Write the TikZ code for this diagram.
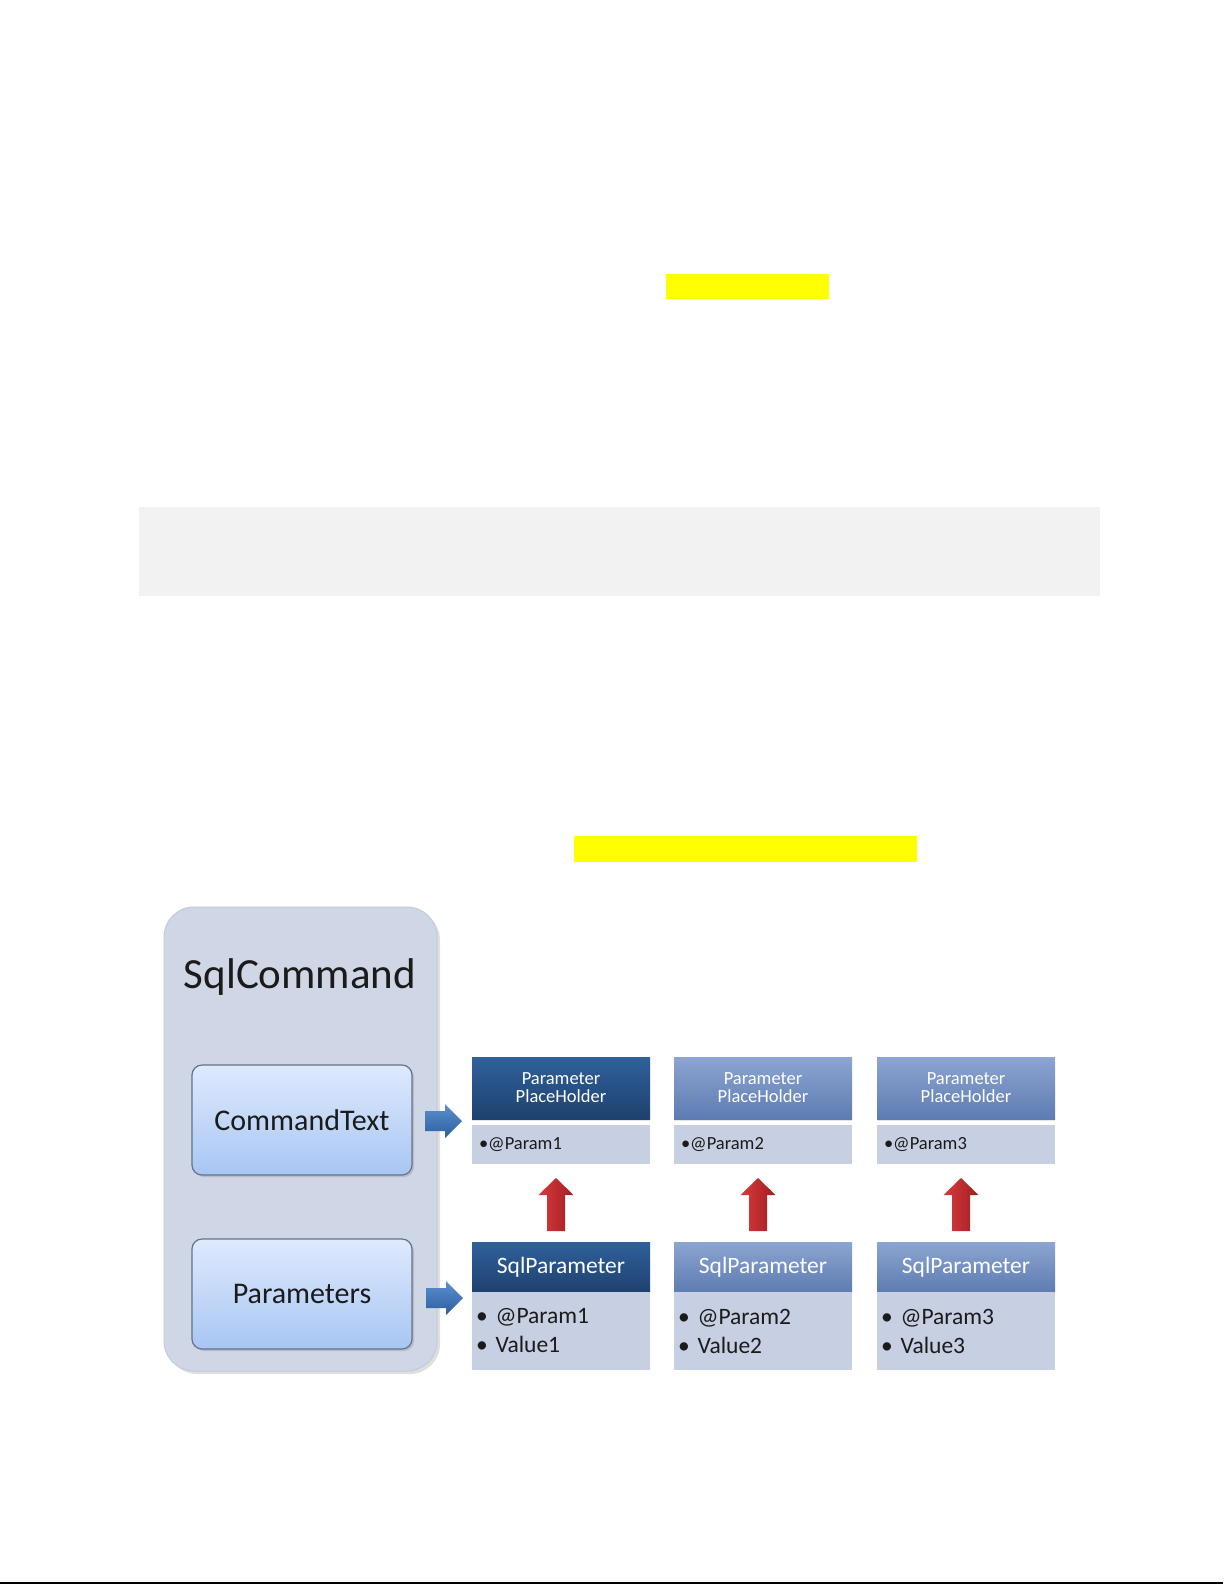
\documentclass[tikz,border=0pt]{standalone}
\usepackage{fontspec}
\setmainfont{Carlito}
\usetikzlibrary{shadows,calc}
\definecolor{hlyellow}{HTML}{FFFF00}
\definecolor{codegrey}{HTML}{F2F2F2}
\definecolor{outerfill}{HTML}{CFD6E5}
\definecolor{outerdraw}{HTML}{C3CBDA}
\definecolor{innertop}{HTML}{DEEAFD}
\definecolor{innerbot}{HTML}{A8C6F3}
\definecolor{innerdraw}{HTML}{65728A}
\definecolor{darktop}{HTML}{30609B}
\definecolor{darkbot}{HTML}{1E426F}
\definecolor{lighttop}{HTML}{8CA5D1}
\definecolor{lightbot}{HTML}{5E7CB2}
\definecolor{bodyfill}{HTML}{C6D0E2}
\definecolor{bodytext}{HTML}{1B1B1B}
\definecolor{bluetop}{HTML}{5A90D2}
\definecolor{bluebot}{HTML}{2E5E9C}
\definecolor{redl}{HTML}{DA3A3C}
\definecolor{redr}{HTML}{A01E22}
\tikzset{
  outerbox/.style={rectangle, rounded corners=30pt, fill=outerfill, draw=outerdraw, line width=1pt,
    inner sep=0pt, outer sep=0pt, anchor=north west,
    drop shadow={shadow xshift=3pt, shadow yshift=-3pt, opacity=0.25}},
  innerbox/.style={rectangle, rounded corners=10pt, top color=innertop, bottom color=innerbot,
    draw=innerdraw, line width=1.2pt, inner sep=0pt, outer sep=0pt, anchor=north west,
    minimum width=220pt, minimum height=110pt, text=bodytext,
    font=\fontsize{30}{36}\selectfont,
    drop shadow={shadow xshift=2pt, shadow yshift=-2pt, opacity=0.3}},
  colbox/.style={rectangle, inner sep=0pt, outer sep=0pt, anchor=north west, minimum width=178pt},
  phhead/.style={colbox, minimum height=62pt, text=white, align=center,
    font=\fontsize{18.5}{18.5}\selectfont,
    drop shadow={shadow xshift=0pt, shadow yshift=-2pt, opacity=0.2}},
  sphead/.style={colbox, minimum height=50pt, text=white,
    font=\fontsize{23.5}{28}\selectfont},
  darkhead/.style={top color=darktop, bottom color=darkbot},
  lighthead/.style={top color=lighttop, bottom color=lightbot},
  phbody/.style={colbox, fill=bodyfill, minimum height=39pt, text=bodytext,
    text width=164pt, inner xsep=7pt, align=left, font=\fontsize{18.5}{20}\selectfont},
  spbody/.style={colbox, fill=bodyfill, minimum height=78pt, text=bodytext,
    text width=170pt, inner xsep=4pt, align=left, font=\fontsize{23.5}{29}\selectfont},
  bluearr/.style={top color=bluetop, bottom color=bluebot},
  redarr/.style={left color=redl, right color=redr}
}
\begin{document}
\begin{tikzpicture}[x=1pt,y=1pt]
\useasboundingbox (0,0) rectangle (1225,-1585);
\fill[white] (0,0) rectangle (1225,-1585);
% highlights and code area
\fill[hlyellow] (666,-274) rectangle (829,-299);
\fill[codegrey] (139,-507) rectangle (1100,-596);
\fill[hlyellow] (574,-836) rectangle (917,-862);
% bottom rule
\draw[line width=1.5pt] (0,-1583) -- (1223,-1583);

% SqlCommand container
\node[outerbox, minimum width=273pt, minimum height=464pt] (sqlcmd) at (164,-907) {};
\node[font=\fontsize{43}{50}\selectfont, text=bodytext, anchor=base] (title) at (300,-988) {SqlCommand};
\node[innerbox] (ct) at (192,-1065) {CommandText};
\node[innerbox] (pm) at (192,-1239) {Parameters};

% columns
\foreach \i/\x/\hs in {1/472/darkhead, 2/674/lighthead, 3/877/lighthead}{
  \node[phhead, \hs] (ph\i) at (\x,-1057) {Parameter\\[-0.5pt]PlaceHolder};
  \node[phbody] (pb\i) at (\x,-1125) {•@Param\i};
  \node[sphead, \hs] (sp\i) at (\x,-1242) {SqlParameter};
  \node[spbody] (sb\i) at (\x,-1292) {• @Param\i\\• Value\i};
}

% blue arrows
\coordinate (ba1) at ($(ct.east)+(13,-1)$);
\coordinate (ba2) at ($(pm.east)+(14,-4)$);
\foreach \b in {ba1,ba2}{
  \shade[bluearr] (\b) -- +(0,10) -- +(20,10) -- +(20,17) -- +(37,0) -- +(20,-17)
    -- +(20,-10) -- +(0,-10) -- cycle;
}
% red arrows
\foreach \i in {1,2,3}{
  \coordinate (ra\i) at ($(sp\i.north)+(-5,11)$);
  \shade[redarr] (ra\i) -- +(9,0) -- +(9,36) -- +(17.5,36) -- +(0,53) -- +(-17.5,36)
    -- +(-9,36) -- +(-9,0) -- cycle;
}
\end{tikzpicture}
\end{document}
